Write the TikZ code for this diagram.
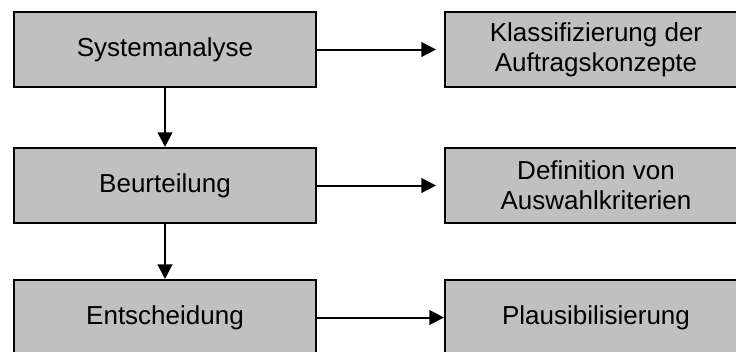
\documentclass[tikz,border=0pt]{standalone}
\usepackage{fontspec}
\setmainfont{Liberation Sans}
\usetikzlibrary{arrows.meta}
\definecolor{boxgray}{RGB}{192,192,192}

\tikzset{
  stage/.style={draw=black,fill=boxgray,line width=1.5pt,minimum width=226.5pt,
    minimum height=56.25pt,inner sep=0pt,align=center,
    font=\fontsize{19.5}{22.5}\selectfont},
  flow/.style={-{Triangle[length=11pt,width=11pt]},line width=1.5pt}
}

\begin{document}
\begin{tikzpicture}[x=0.75pt,y=-0.75pt]
  \useasboundingbox (0,0) rectangle (736,351);

  % draw the main steps
  \node[stage] (sys) at (165,49.5) {Systemanalyse};
  \node[stage] (beu) at (165,185.5) {Beurteilung};
  \node[stage] (ent) at (165,317.5) {Entscheidung};

  % draw the results
  \node[stage] (kla) at (596,49.5) {Klassifizierung der\\Auftragskonzepte};
  \node[stage] (def) at (596,185.5) {Definition von\\Auswahlkriterien};
  \node[stage] (pla) at (596,317.5) {Plausibilisierung};

  % connect them
  \draw[flow] (sys) -- (beu);
  \draw[flow] (beu) -- (ent);
  \draw[flow,shorten >=6pt] (sys) -- (kla);
  \draw[flow,shorten >=6pt] (beu) -- (def);
  \draw[flow] (ent) -- (pla);
\end{tikzpicture}
\end{document}
